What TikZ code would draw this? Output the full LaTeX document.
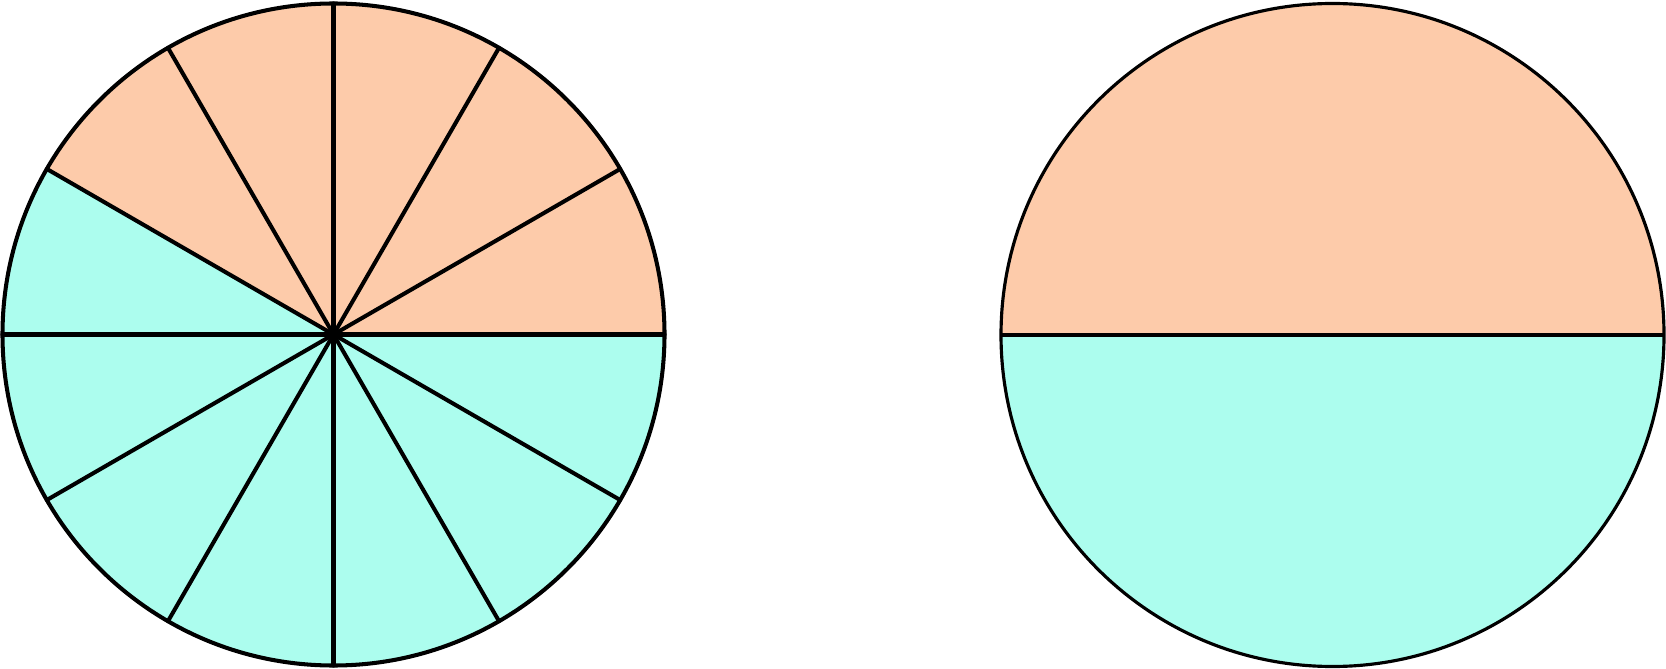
\documentclass[tikz,border=0pt]{standalone}
\usepackage{tikz}
\usetikzlibrary{positioning}
\definecolor{peach}{RGB}{253,203,170}
\definecolor{aqua}{RGB}{172,253,238}
\tikzstyle{thickrim} = [draw=black, line width=2.3pt]
\tikzstyle{thinrim} = [draw=black, line width=1.8pt]
\tikzstyle{spoke} = [draw=black, line width=2.3pt, line cap=round]

\begin{document}
\begin{tikzpicture}
        \useasboundingbox (0,0) rectangle (33.32,13.36);
        \coordinate (c1) at (6.67,6.67);
        \coordinate (c2) at (26.65,6.66);
        \coordinate (w2) at (20.02,6.66);
        \coordinate (e2) at (33.28,6.66);

        % left circle, twelve parts
        \fill[peach] (c1) -- ++(0:6.62) arc (0:150:6.62) -- cycle;
        \fill[aqua] (c1) -- ++(150:6.62) arc (150:360:6.62) -- cycle;
        \foreach \a in {0,30,...,330}
            \draw[spoke] (c1) -- ++(\a:6.62);
        \draw[thickrim] (c1) circle (6.62);

        % right circle, two halves
        \fill[peach] (e2) arc (0:180:6.63) -- cycle;
        \fill[aqua] (w2) arc (180:360:6.63) -- cycle;
        \draw[thinrim] (w2) -- (e2);
        \draw[thinrim] (c2) circle (6.63);

\end{tikzpicture}
\end{document}
